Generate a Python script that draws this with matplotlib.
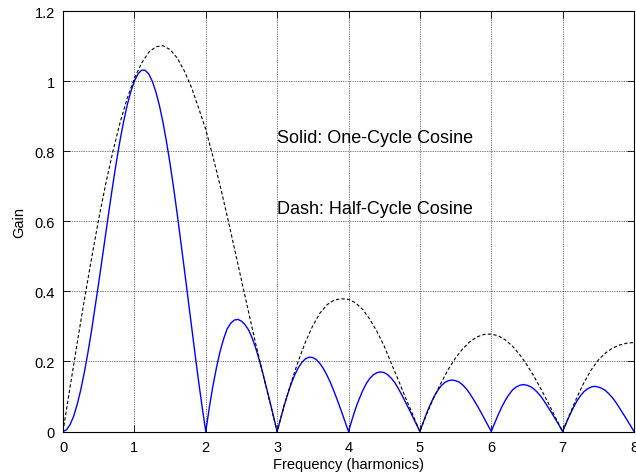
import numpy as np
import matplotlib
matplotlib.use('Agg')
import matplotlib.pyplot as plt

plt.rcParams['font.family'] = ['Liberation Sans', 'DejaVu Sans']

# frequency axes, in harmonics
freqFine = np.linspace(0, 8, 161)   # every 0.05 for the solid curve
freq = np.linspace(0, 8, 81)        # every 0.1 for the dashed curve

# solid blue curve: one-cycle cosine
oneCycle = [0.000, 0.005, 0.020, 0.044, 0.078, 0.120, 0.170, 0.226, 0.288, 0.355,
            0.424, 0.496, 0.568, 0.638, 0.707, 0.772, 0.832, 0.885, 0.932, 0.970,
            1.000, 1.020, 1.031, 1.031, 1.021, 1.000, 0.970, 0.931, 0.883, 0.827,
            0.764, 0.695, 0.621, 0.543, 0.463, 0.382, 0.301, 0.221, 0.143, 0.069,
            0.000, 0.068, 0.130, 0.182, 0.228, 0.264, 0.293, 0.309, 0.318, 0.320,
            0.315, 0.305, 0.290, 0.267, 0.238, 0.204, 0.166, 0.126, 0.085, 0.043,
            0.000, 0.038, 0.075, 0.108, 0.138, 0.163, 0.183, 0.198, 0.208, 0.212,
            0.211, 0.205, 0.194, 0.179, 0.160, 0.138, 0.113, 0.086, 0.058, 0.029,
            0.000, 0.034, 0.066, 0.093, 0.117, 0.137, 0.152, 0.162, 0.168, 0.170,
            0.168, 0.162, 0.152, 0.139, 0.122, 0.103, 0.083, 0.063, 0.042, 0.021,
            0.000, 0.028, 0.055, 0.079, 0.100, 0.117, 0.131, 0.140, 0.145, 0.147,
            0.145, 0.141, 0.133, 0.122, 0.108, 0.092, 0.075, 0.057, 0.038, 0.019,
            0.000, 0.025, 0.049, 0.071, 0.090, 0.106, 0.119, 0.127, 0.132, 0.134,
            0.132, 0.128, 0.121, 0.111, 0.099, 0.084, 0.068, 0.052, 0.035, 0.018,
            0.000, 0.024, 0.047, 0.068, 0.087, 0.102, 0.114, 0.122, 0.127, 0.129,
            0.127, 0.123, 0.117, 0.107, 0.096, 0.082, 0.066, 0.050, 0.034, 0.017,
            0.000]

# dashed black curve: half-cycle cosine
halfCycle = [0.000, 0.128, 0.254, 0.377, 0.494, 0.606, 0.708, 0.800, 0.882, 0.951,
             1.008, 1.051, 1.082, 1.098, 1.101, 1.090, 1.066, 1.029, 0.982, 0.923,
             0.862, 0.785, 0.703, 0.615, 0.524, 0.432, 0.341, 0.250, 0.165, 0.082,
             0.000, 0.075, 0.142, 0.203, 0.257, 0.302, 0.338, 0.362, 0.375, 0.379,
             0.377, 0.367, 0.348, 0.320, 0.285, 0.244, 0.194, 0.146, 0.096, 0.048,
             0.000, 0.052, 0.099, 0.140, 0.178, 0.210, 0.236, 0.256, 0.270, 0.277,
             0.278, 0.273, 0.261, 0.243, 0.219, 0.190, 0.157, 0.120, 0.081, 0.040,
             0.000, 0.050, 0.097, 0.140, 0.176, 0.204, 0.224, 0.238, 0.247, 0.252,
             0.254]

xTicks = [0, 1, 2, 3, 4, 5, 6, 7, 8]
yTicks = [0, 0.2, 0.4, 0.6, 0.8, 1.0, 1.2]
yTickLabels = ['0', '0.2', '0.4', '0.6', '0.8', '1', '1.2']

fig = plt.figure(figsize=(6.36, 4.77), dpi=100)
ax = fig.add_axes([63 / 636, 44.5 / 477, 571 / 636, 420.5 / 477])

ax.plot(freqFine, oneCycle, color='#0000ff', linewidth=1.0)
ax.plot(freq, halfCycle, color='black', linewidth=0.8, dashes=(3, 2))

ax.set_xlim(0, 8)
ax.set_ylim(0, 1.2)
ax.set_xticks(xTicks)
ax.set_yticks(yTicks)
ax.set_yticklabels(yTickLabels)
ax.tick_params(direction='in', top=True, right=True, length=5, width=0.6,
               labelsize=10.5, colors='black')
ax.tick_params(axis='x', pad=6)
ax.tick_params(axis='y', pad=6)
for s in ax.spines.values():
    s.set_linewidth(0.8)
ax.grid(True, color='black', linestyle=(0, (1, 1.5)), linewidth=0.5)

ax.set_xlabel('Frequency (harmonics)', fontsize=10.5, labelpad=2)
ax.set_ylabel('Gain', fontsize=10.5, labelpad=6)

ax.text(3, 0.838, 'Solid: One-Cycle Cosine', fontsize=13, va='center')
ax.text(3, 0.636, 'Dash: Half-Cycle Cosine', fontsize=13, va='center')

plt.savefig('out.png', dpi=100)
